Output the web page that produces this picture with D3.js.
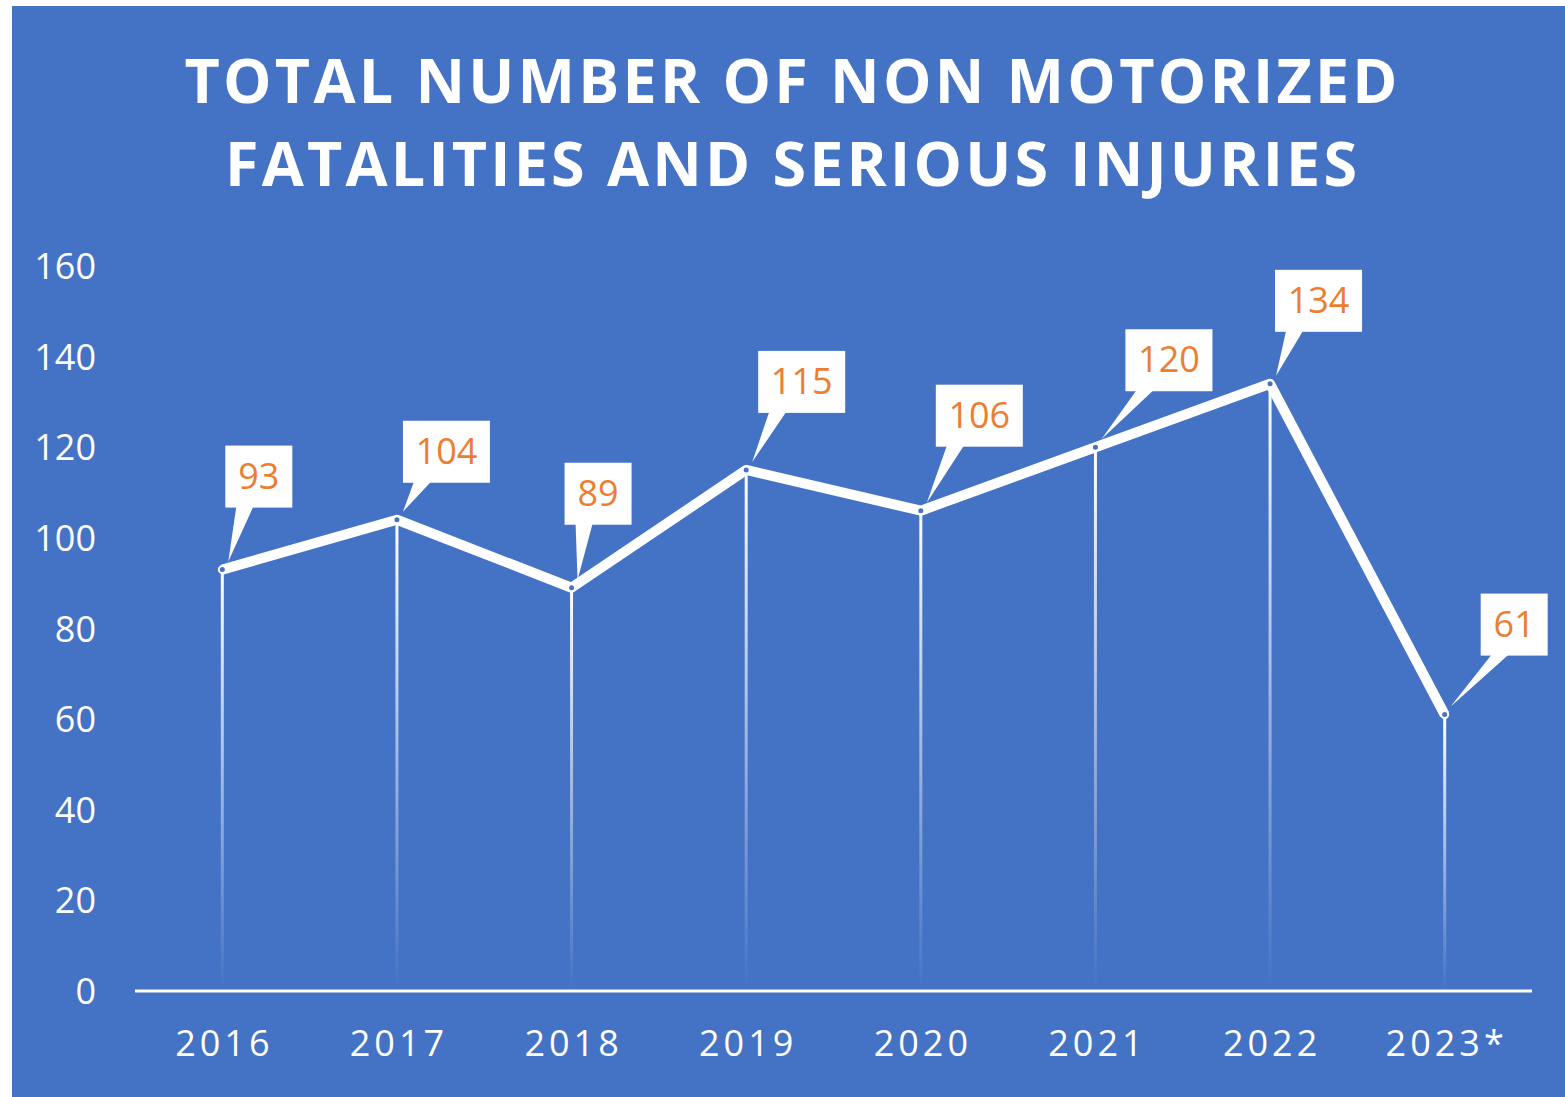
<!DOCTYPE html>
<html>
<head>
<meta charset="utf-8">
<script src="https://cdn.jsdelivr.net/npm/d3@7"></script>
<style>
  body { margin: 0; background: #fff; }
  svg { display: block; }
  text { font-family: "Open Sans", "Noto Sans", sans-serif; }
</style>
</head>
<body>
<svg id="chart" width="1565" height="1097"></svg>
<script>
// data
const years = ['2016', '2017', '2018', '2019', '2020', '2021', '2022', '2023*'];
const totals = [93, 104, 89, 115, 106, 120, 134, 61];
const yTicks = [0, 20, 40, 60, 80, 100, 120, 140, 160];
const titleLines = ['TOTAL NUMBER OF NON MOTORIZED', 'FATALITIES AND SERIOUS INJURIES'];

// callout placement (box left from point, box bottom above point)
const calloutDx = [3, 6, -7, 12, 15, 30, 5, 36];
const calloutDy = [62, 37, 63, 57, 64, 56, 52, 59];

const BLUE = '#4472C4';
const ORANGE = '#ED7D31';

const svg = d3.select('svg#chart');
const WIDTH = +svg.attr('width');
const HEIGHT = +svg.attr('height');
const margin = {top: 266, right: 33, bottom: 106, left: 135};

// background
svg.append('rect')
  .attr('x', 12).attr('y', 6)
  .attr('width', WIDTH - 12).attr('height', HEIGHT - 6)
  .attr('fill', BLUE);

// title
const titleWidths = [1213, 1132];
svg.append('g').selectAll('text')
  .data(titleLines)
  .join('text')
    .attr('x', 791)
    .attr('y', (d, i) => 103 + i * 83)
    .attr('text-anchor', 'middle')
    .attr('fill', '#fff')
    .attr('font-size', 61)
    .attr('font-weight', 700)
    .attr('textLength', (d, i) => titleWidths[i])
    .attr('lengthAdjust', 'spacing')
    .text(d => d);

const x = d3.scaleBand()
  .domain(years)
  .range([margin.left, WIDTH - margin.right]);

const y = d3.scaleLinear()
  .domain([0, 160])
  .range([HEIGHT - margin.bottom, margin.top]);

const cx = d => x(d) + x.bandwidth() / 2;

// gradient for drop lines
const defs = svg.append('defs');
const grad = defs.append('linearGradient')
  .attr('id', 'dropFade')
  .attr('x1', 0).attr('y1', 0).attr('x2', 0).attr('y2', 1);
grad.append('stop').attr('offset', '0%').attr('stop-color', '#fff').attr('stop-opacity', 1);
grad.append('stop').attr('offset', '100%').attr('stop-color', '#fff').attr('stop-opacity', 0);

// y tick labels
svg.append('g').selectAll('text')
  .data(yTicks)
  .join('text')
    .attr('x', 96)
    .attr('y', d => y(d) + 13)
    .attr('text-anchor', 'end')
    .attr('fill', '#fff')
    .attr('font-size', 36)
    .text(d => d);

// x labels
svg.append('g').selectAll('text')
  .data(years)
  .join('text')
    .attr('x', d => cx(d) + 2)
    .attr('y', 1056)
    .attr('text-anchor', 'middle')
    .attr('fill', '#fff')
    .attr('font-size', 36)
    .attr('letter-spacing', '4px')
    .text(d => d);

const pts = years.map((yr, i) => ({yr, v: totals[i], i}));

// drop lines
svg.append('g').selectAll('rect')
  .data(pts)
  .join('rect')
    .attr('x', d => cx(d.yr) - 1.5)
    .attr('y', d => y(d.v))
    .attr('width', 3)
    .attr('height', d => y(0) - y(d.v))
    .attr('fill', 'url(#dropFade)');

// axis line
svg.append('line')
  .attr('x1', x.range()[0]).attr('x2', x.range()[1])
  .attr('y1', y(0)).attr('y2', y(0))
  .attr('stroke', '#fff')
  .attr('stroke-width', 3);

// series line
const line = d3.line()
  .x(d => cx(d.yr))
  .y(d => y(d.v));

svg.append('path')
  .datum(pts)
  .attr('d', line)
  .attr('fill', 'none')
  .attr('stroke', '#fff')
  .attr('stroke-width', 10)
  .attr('stroke-linejoin', 'round');

svg.append('g').selectAll('circle')
  .data(pts)
  .join('circle')
    .attr('cx', d => cx(d.yr))
    .attr('cy', d => y(d.v))
    .attr('r', 3.5)
    .attr('fill', BLUE)
    .attr('stroke', '#fff')
    .attr('stroke-width', 2);

// callouts
const callouts = svg.append('g').selectAll('g')
  .data(pts)
  .join('g');

callouts.each(function(d) {
  const g = d3.select(this);
  const px = cx(d.yr), py = y(d.v);
  const boxW = String(d.v).length === 2 ? 67 : 87;
  const boxH = 62;
  const left = px + calloutDx[d.i];
  const bottom = py - calloutDy[d.i];
  const top = bottom - boxH;
  // pointer
  g.append('path')
    .attr('d', `M${left + 11},${bottom - 1} L${left + 28},${bottom - 1} L${px + 6},${py - 8} Z`)
    .attr('fill', '#fff');
  g.append('rect')
    .attr('x', left).attr('y', top)
    .attr('width', boxW).attr('height', boxH)
    .attr('fill', '#fff');
  g.append('text')
    .attr('x', left + boxW / 2)
    .attr('y', top + 43)
    .attr('text-anchor', 'middle')
    .attr('fill', ORANGE)
    .attr('font-size', 36)
    .text(d.v);
});
</script>
</body>
</html>
